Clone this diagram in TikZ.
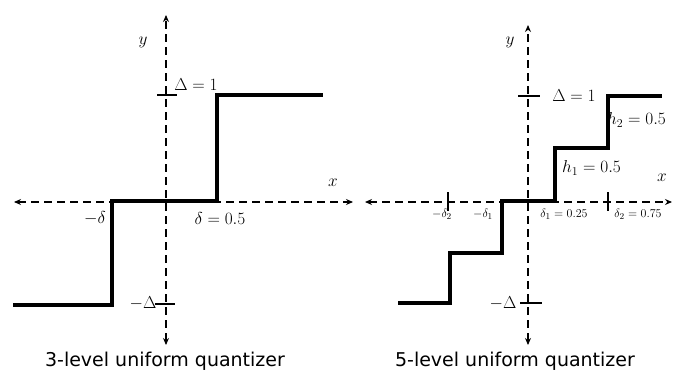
\documentclass[tikz,border=0pt]{standalone}
\usepackage{fontspec}
\newfontfamily\capfont{DejaVu Sans}
\usetikzlibrary{arrows.meta}

\tikzset{
  axis/.style={line width=1.1pt, dash pattern=on 8pt off 5pt, {Stealth[length=7pt,width=6pt]}-{Stealth[length=7pt,width=6pt]}},
  stair/.style={line width=3.2pt, line join=miter},
  tick/.style={line width=1.6pt},
  lbl/.style={inner sep=0pt, font=\fontsize{18}{21}\selectfont},
  small/.style={inner sep=0pt, font=\fontsize{13}{15}\selectfont},
  caption/.style={inner sep=0pt, font=\capfont\fontsize{19}{22}\selectfont}
}

\begin{document}
\begin{tikzpicture}[x=1pt, y=-1pt]
\useasboundingbox (0,0) rectangle (673,383);

% 3-level quantizer on the left
\coordinate (lxl) at (14,202);
\coordinate (lxr) at (353,202);
\coordinate (lyt) at (166,15);
\coordinate (lyb) at (166,345);
\draw[axis] (lxl) -- (lxr);
\draw[axis] (lyb) -- (lyt);
\draw[stair] (13,305) -| (112,201) -| (217,95) -- (323,95);
\draw[tick] (157,95) -- (177,95);
\draw[tick] (155,304) -- (175,304);
\node[lbl] (ly) at (143,42) {$y$};
\node[lbl] (lx) at (333,183) {$x$};
\node[lbl] (ldelta) at (196,85) {$\Delta=1$};
\node[lbl] (lmdelta) at (143,303) {$-\Delta$};
\node[lbl] (lmd) at (95,218) {$-\delta$};
\node[lbl] (ld) at (220,218) {$\delta=0.5$};
\node[caption] (lcap) at (165,361) {3-level uniform quantizer};

% 5-level quantizer on the right
\coordinate (rxl) at (365,202);
\coordinate (rxr) at (672,202);
\coordinate (ryt) at (528,25);
\coordinate (ryb) at (528,345);
\draw[axis] (rxl) -- (rxr);
\draw[axis] (ryb) -- (ryt);
\draw[stair] (398,303) -| (450,253) -| (502,201) -| (555,148) -| (608,96) -- (662,96);
\draw[tick] (518,96) -- (540,96);
\draw[tick] (520,303) -- (542,303);
\foreach \xt in {448,608}
  \draw[tick] (\xt,192) -- (\xt,211);
\node[lbl] (ry) at (510,42) {$y$};
\node[lbl] (rx) at (662,178) {$x$};
\node[lbl] (rdelta) at (574,96) {$\Delta=1$};
\node[lbl] (rmdelta) at (503,303) {$-\Delta$};
\node[small] (rmd2) at (442,214) {$-\delta_2$};
\node[small] (rmd1) at (483,214) {$-\delta_1$};
\node[small] (rd1) at (564,214) {$\delta_1=0.25$};
\node[small] (rd2) at (638,214) {$\delta_2=0.75$};
\node[lbl, anchor=west] (rh1) at (562,168) {$h_1=0.5$};
\node[lbl, anchor=west] (rh2) at (607,120) {$h_2=0.5$};
\node[caption] (rcap) at (515,361) {5-level uniform quantizer};
\end{tikzpicture}
\end{document}
